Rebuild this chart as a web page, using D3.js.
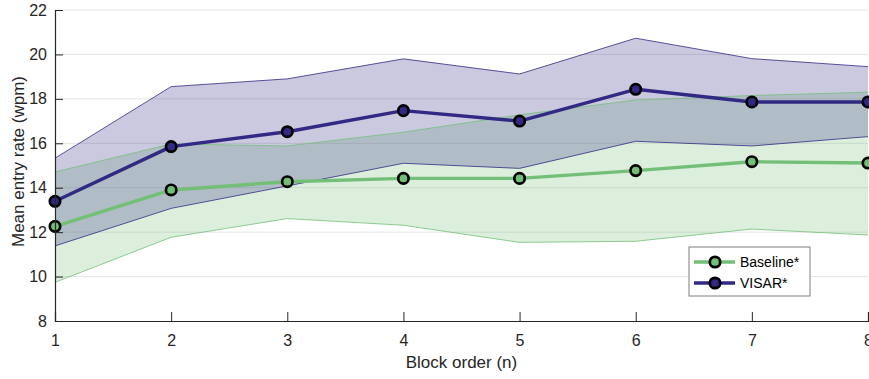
<!DOCTYPE html>
<html>
<head>
<meta charset="utf-8">
<script src="https://cdn.jsdelivr.net/npm/d3@7/dist/d3.min.js"></script>
<style>
  html, body { margin: 0; padding: 0; background: #fff; }
  svg { display: block; font-family: "Liberation Sans", Arial, sans-serif; }
</style>
</head>
<body>
<svg id="chart" width="869" height="379"></svg>
<script>
// Block order (x) and mean entry rates with their spread bands
const blocks = [1, 2, 3, 4, 5, 6, 7, 8];
const baselineMean  = [12.26, 13.90, 14.27, 14.42, 14.42, 14.77, 15.17, 15.11];
const baselineUpper = [14.71, 15.97, 15.88, 16.50, 17.28, 17.95, 18.15, 18.30];
const baselineLower = [9.74, 11.77, 12.61, 12.31, 11.54, 11.59, 12.14, 11.87];
const visarMean  = [13.39, 15.85, 16.52, 17.47, 17.00, 18.43, 17.86, 17.86];
const visarUpper = [15.33, 18.55, 18.90, 19.80, 19.12, 20.73, 19.81, 19.45];
const visarLower = [11.38, 13.07, 14.08, 15.10, 14.87, 16.09, 15.88, 16.30];
const yTicks = [8, 10, 12, 14, 16, 18, 20, 22];
const seriesNames = ["Baseline*", "VISAR*"];

const colors = { baseline: "#73bf78", visar: "#312983" };
const textColor = "#262626";
const tickFont = 16, labelFont = 17, legendFont = 14;
const markerR = 5.2, markerStroke = 2.7, meanWidth = 3.4;

const svg = d3.select("#chart");
const m = { left: 55, right: 1, top: 10, bottom: 58 };
const W = 869, H = 379;

const x = d3.scaleLinear().domain([1, 8]).range([m.left, W - m.right]);
const y = d3.scaleLinear().domain([8, 22]).range([H - m.bottom, m.top]);

// Horizontal grid
svg.append("g").selectAll("line")
  .data(yTicks.filter(t => t > 8))
  .join("line")
  .attr("x1", x(1)).attr("x2", x(8))
  .attr("y1", d => y(d)).attr("y2", d => y(d))
  .attr("stroke", "#e5e5e5").attr("stroke-width", 1);

const series = [
  { key: "baseline", name: seriesNames[0], mean: baselineMean, up: baselineUpper, lo: baselineLower },
  { key: "visar", name: seriesNames[1], mean: visarMean, up: visarUpper, lo: visarLower }
];

const area = d3.area()
  .x((d, i) => x(blocks[i]))
  .y0(d => y(d[0]))
  .y1(d => y(d[1]));
const line = d3.line().x((d, i) => x(blocks[i])).y(d => y(d));

// Shaded spread bands
series.forEach(s => {
  const band = s.lo.map((v, i) => [v, s.up[i]]);
  svg.append("path").datum(band)
    .attr("d", area)
    .attr("fill", colors[s.key]).attr("fill-opacity", 0.25).attr("stroke", "none");
});
series.forEach(s => {
  [s.up, s.lo].forEach(edge => {
    svg.append("path").datum(edge)
      .attr("d", line).attr("fill", "none")
      .attr("stroke", colors[s.key]).attr("stroke-width", 0.8);
  });
});

// Mean lines with markers
series.forEach(s => {
  svg.append("path").datum(s.mean)
    .attr("d", line).attr("fill", "none")
    .attr("stroke", colors[s.key]).attr("stroke-width", meanWidth)
    .attr("stroke-linejoin", "round");
  svg.append("g").selectAll("circle")
    .data(s.mean)
    .join("circle")
    .attr("cx", (d, i) => x(blocks[i]))
    .attr("cy", d => y(d))
    .attr("r", markerR)
    .attr("fill", colors[s.key])
    .attr("stroke", "#000").attr("stroke-width", markerStroke);
});

// Axes
const xAxis = d3.axisBottom(x).tickValues(blocks).tickSize(-9).tickPadding(14)
  .tickFormat(d3.format("d"));
const yAxis = d3.axisLeft(y).tickValues(yTicks).tickSize(-8).tickPadding(8);

const gx = svg.append("g").attr("transform", `translate(0,${H - m.bottom})`).call(xAxis);
const gy = svg.append("g").attr("transform", `translate(${m.left},0)`).call(yAxis);
[gx, gy].forEach(g => {
  g.attr("font-size", null).attr("font-family", null);
  g.select(".domain").attr("stroke", textColor).attr("stroke-width", 1.2);
  g.selectAll(".tick line").attr("stroke", textColor).attr("stroke-width", 1);
  g.selectAll(".tick text").attr("fill", textColor).style("font-size", tickFont + "px");
});

// Axis titles
svg.append("text")
  .attr("x", x(4.5)).attr("y", 368)
  .attr("text-anchor", "middle").attr("fill", textColor)
  .style("font-size", labelFont + "px").text("Block order (n)");
svg.append("text")
  .attr("transform", `translate(23.5,${(y(8) + y(22)) / 2 - 4}) rotate(-90)`)
  .attr("text-anchor", "middle").attr("fill", textColor)
  .style("font-size", labelFont + "px").text("Mean entry rate (wpm)");

// Legend
const lg = svg.append("g").attr("transform", "translate(689,247)");
lg.append("rect").attr("width", 121).attr("height", 49)
  .attr("fill", "#fff").attr("stroke", "#7f7f7f").attr("stroke-width", 1);
series.forEach((s, i) => {
  const yy = 15 + i * 21;
  lg.append("line").attr("x1", 5).attr("x2", 46).attr("y1", yy).attr("y2", yy)
    .attr("stroke", colors[s.key]).attr("stroke-width", meanWidth);
  lg.append("circle").attr("cx", 26).attr("cy", yy).attr("r", markerR)
    .attr("fill", colors[s.key]).attr("stroke", "#000").attr("stroke-width", markerStroke);
  lg.append("text").attr("x", 51).attr("y", yy + 5)
    .attr("fill", "#000").style("font-size", legendFont + "px").text(s.name);
});
</script>
</body>
</html>
